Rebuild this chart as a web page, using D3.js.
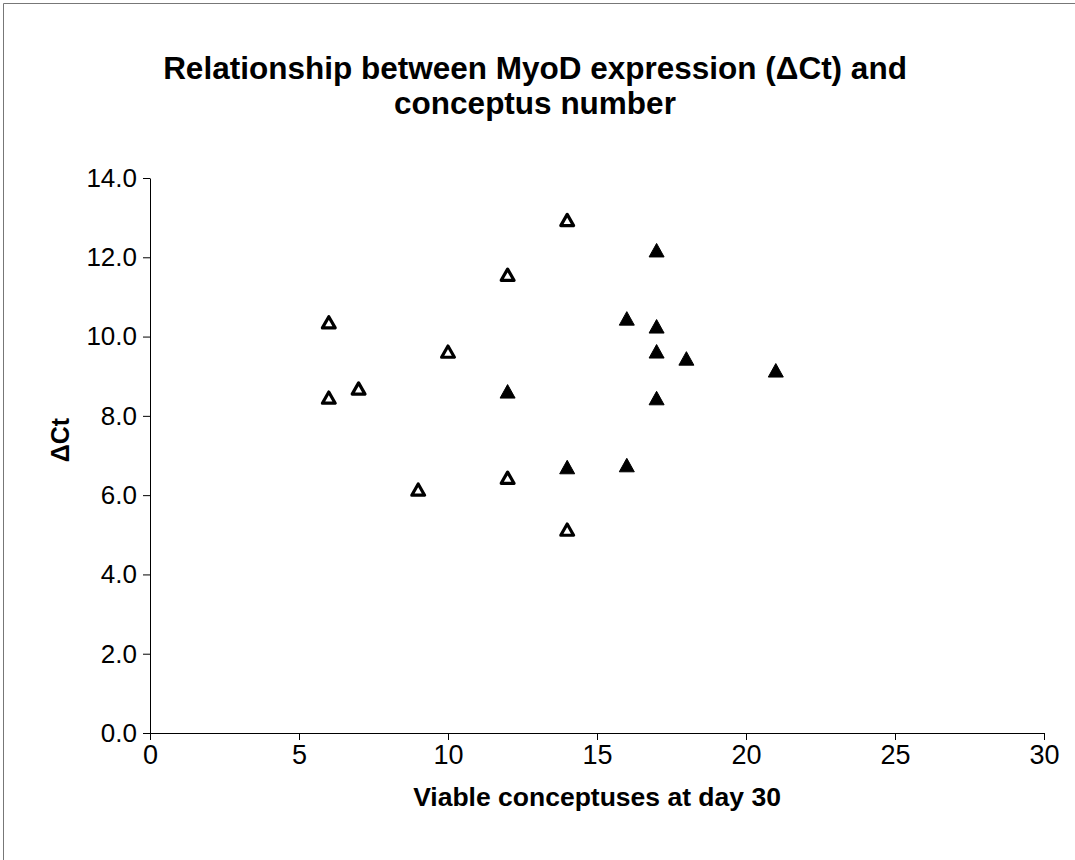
<!DOCTYPE html>
<html><head><meta charset="utf-8">
<script src="https://cdn.jsdelivr.net/npm/d3@7"></script>
<style>body{margin:0;background:#fff;} svg{display:block;font-family:Arial,"Liberation Sans",sans-serif;}</style>
</head><body>
<svg id="c" width="1075" height="860"></svg>
<script>
const openX = [6, 6, 7, 9, 10, 12, 12, 14, 14];
const openY = [10.35, 8.45, 8.68, 6.13, 9.61, 11.55, 6.43, 12.93, 5.12];
const filledX = [12, 14, 16, 16, 17, 17, 17, 17, 18, 21];
const filledY = [8.6, 6.69, 10.44, 6.74, 12.16, 10.24, 9.61, 8.43, 9.43, 9.13];
const xTicks = [0, 5, 10, 15, 20, 25, 30];
const yTicks = [0, 2, 4, 6, 8, 10, 12, 14];
const titleLines = ["Relationship between MyoD expression (\u0394Ct) and", "conceptus number"];
const xTitle = "Viable conceptuses at day 30";
const yTitle = "\u0394Ct";

const FF = "Arial, 'Liberation Sans', sans-serif";
const svg = d3.select("#c");
// outer frame
svg.append("line").attr("x1",3.5).attr("x2",1075).attr("y1",3.5).attr("y2",3.5).attr("stroke","#777").attr("stroke-width",1);
svg.append("line").attr("x1",3.5).attr("x2",3.5).attr("y1",3.5).attr("y2",860).attr("stroke","#777").attr("stroke-width",1);

const x = d3.scaleLinear().domain([0,30]).range([150,1044]);
const y = d3.scaleLinear().domain([0,14]).range([733,178]);

const xAxis = svg.append("g").attr("transform","translate(0,733)")
  .call(d3.axisBottom(x).tickValues(xTicks).tickSize(7).tickSizeOuter(0).tickPadding(5).tickFormat(d3.format("d")));
xAxis.attr("font-size",null).attr("font-family",null);
xAxis.selectAll("text").style("font-size","27px").attr("fill","#000").style("font-family",FF);
const yAxis = svg.append("g").attr("transform","translate(150,0)")
  .call(d3.axisLeft(y).tickValues(yTicks).tickSize(7).tickSizeOuter(0).tickPadding(6).tickFormat(d3.format(".1f")));
yAxis.attr("font-size",null).attr("font-family",null);
yAxis.selectAll("text").style("font-size","26px").attr("fill","#000").style("font-family",FF);
svg.selectAll(".domain, .tick line").attr("stroke","#000").attr("stroke-width",1);

// titles
svg.append("text").attr("text-anchor","middle").attr("font-weight","bold").style("font-size","31.5px")
  .selectAll("tspan").data(titleLines).join("tspan").attr("x",535).attr("y",(d,i)=>79+i*35).text(d=>d);
svg.append("text").attr("x",597).attr("y",806).attr("text-anchor","middle").attr("font-weight","bold").style("font-size","26.5px").text(xTitle);
svg.append("text").attr("transform","translate(69,440) rotate(-90)").attr("text-anchor","middle").attr("font-weight","bold").style("font-size","25px").text(yTitle);

// triangles
const openData = openX.map((v,i)=>({x:v,y:openY[i]}));
const filledData = filledX.map((v,i)=>({x:v,y:filledY[i]}));
svg.append("g").selectAll("path").data(openData).join("path")
  .attr("d","M0,-6 L6.4,5.2 L-6.4,5.2 Z")
  .attr("transform",d=>`translate(${x(d.x)},${y(d.y)})`)
  .attr("fill","#fff").attr("stroke","#000").attr("stroke-width",3.2).attr("stroke-linejoin","round");
svg.append("g").selectAll("path").data(filledData).join("path")
  .attr("d","M0,-7.5 L7.5,6 L-7.5,6 Z")
  .attr("transform",d=>`translate(${x(d.x)},${y(d.y)})`)
  .attr("fill","#000").attr("stroke","#000").attr("stroke-width",1).attr("stroke-linejoin","round");
</script>
</body></html>
